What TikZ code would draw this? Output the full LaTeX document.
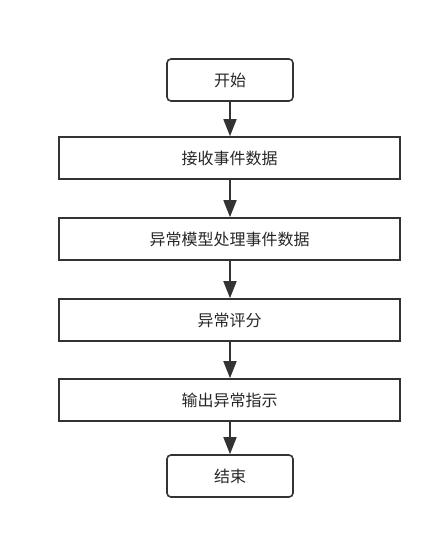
\documentclass[tikz,border=0pt]{standalone}
\usepackage{fontspec}
\setmainfont{Noto Sans CJK SC}
\usetikzlibrary{arrows.meta,positioning}

\tikzset{
  term/.style={draw=black!80,line width=1.6pt,rounded corners=4pt,minimum width=126pt,minimum height=42pt},
  stepbox/.style={draw=black!80,line width=1.6pt,minimum width=341pt,minimum height=42pt},
  flow/.style={draw=black!80,line width=1.6pt,-{Triangle[width=13pt,length=17pt]}}
}

\begin{document}
\begin{tikzpicture}[x=1pt,y=-1pt,font=\fontsize{16pt}{18pt}\selectfont,text=black!85]
  \useasboundingbox (0,0) rectangle (439,535);                  % page size

  \node[term]    (start)  at (230,80)    {开始};                 % start
  \node[stepbox] (recv)   at (229.5,158) {接收事件数据};         % step 1
  \node[stepbox] (model)  at (229.5,239) {异常模型处理事件数据}; % step 2
  \node[stepbox] (score)  at (229.5,320) {异常评分};             % step 3
  \node[stepbox] (output) at (229.5,400) {输出异常指示};         % step 4
  \node[term]    (stop)   at (230,476)   {结束};                 % end

  \draw[flow] (start) -- (start|-recv.north);
  \draw[flow] (recv.south-|start) -- (start|-model.north);
  \draw[flow] (model.south-|start) -- (start|-score.north);
  \draw[flow] (score.south-|start) -- (start|-output.north);
  \draw[flow] (output.south-|start) -- (stop);
\end{tikzpicture}
\end{document}
